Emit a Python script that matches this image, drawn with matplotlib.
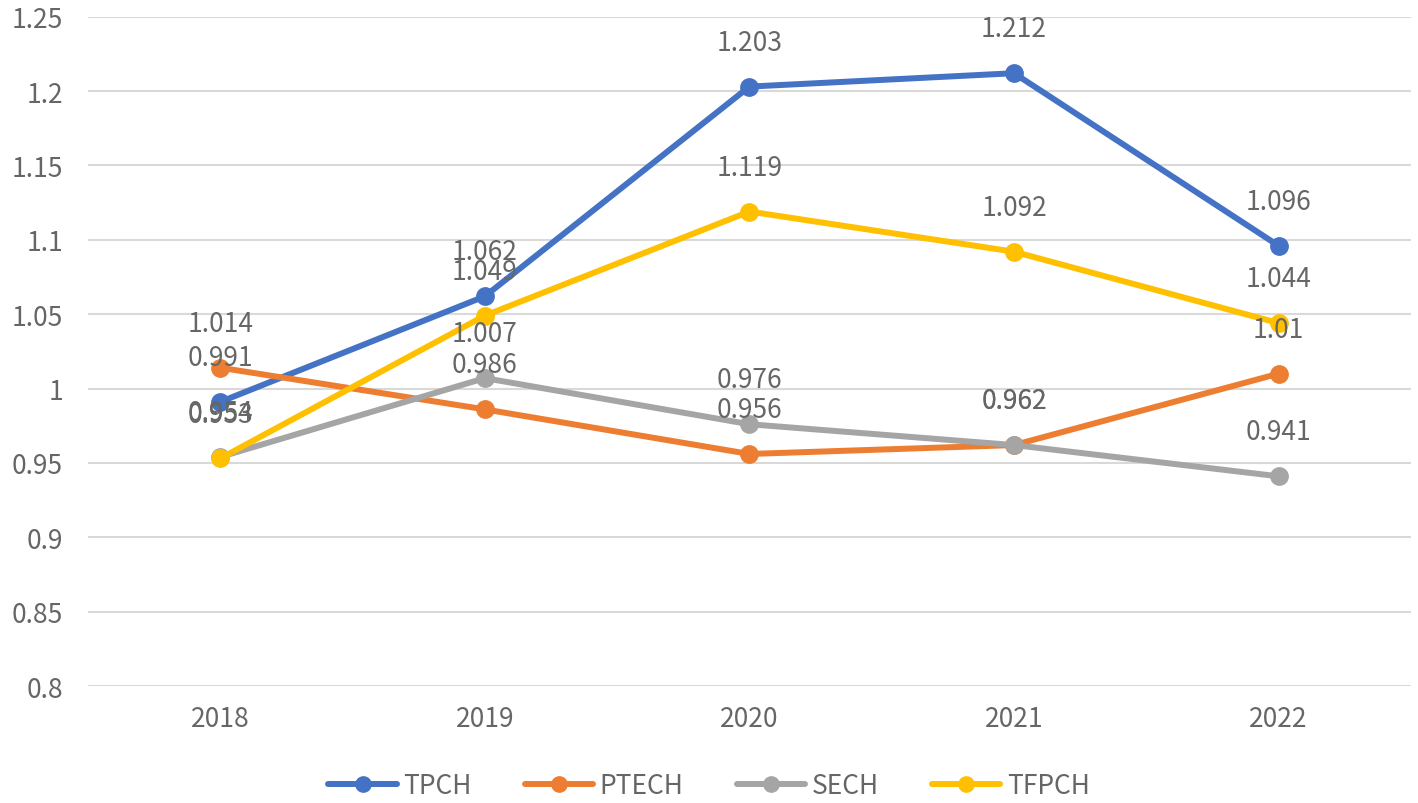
import matplotlib
matplotlib.use("Agg")
import matplotlib.pyplot as plt

years = ["2018", "2019", "2020", "2021", "2022"]
tpch = [0.991, 1.062, 1.203, 1.212, 1.096]
ptech = [1.014, 0.986, 0.956, 0.962, 1.01]
sech = [0.954, 1.007, 0.976, 0.962, 0.941]
tfpch = [0.953, 1.049, 1.119, 1.092, 1.044]

series = [("TPCH", tpch, "#4472C4"),
          ("PTECH", ptech, "#ED7D31"),
          ("SECH", sech, "#A5A5A5"),
          ("TFPCH", tfpch, "#FFC000")]

yticks = [0.8, 0.85, 0.9, 0.95, 1.0, 1.05, 1.1, 1.15, 1.2, 1.25]
ytick_labels = ["0.8", "0.85", "0.9", "0.95", "1", "1.05", "1.1", "1.15", "1.2", "1.25"]

plt.rcParams['font.family'] = ['Noto Sans CJK SC', 'DejaVu Sans']
txt = "#666666"

fig = plt.figure(figsize=(14.18, 8.04), dpi=100)
ax = fig.add_axes([0.062, 0.1455, 0.933, 0.8325])

x = list(range(len(years)))
for name, vals, col in series:
    ax.plot(x, vals, color=col, lw=4.3, marker="o", ms=12.5, label=name,
            solid_capstyle="round", solid_joinstyle="round", zorder=3)
    for xi, v in zip(x, vals):
        ax.annotate(f"{v:g}", (xi, v), xytext=(0, 32), textcoords="offset points",
                    ha="center", va="center", fontsize=19, color=txt, zorder=4)

ax.set_xlim(-0.5, 4.5)
ax.set_ylim(0.8, 1.25)
ax.set_yticks(yticks)
ax.set_yticklabels(ytick_labels)
ax.set_xticks(x)
ax.set_xticklabels(years)
ax.grid(axis="y", color="#D9D9D9", lw=1.5, zorder=0)
ax.set_axisbelow(True)
for s in ax.spines.values():
    s.set_visible(False)
ax.tick_params(axis="both", length=0, labelsize=19, labelcolor=txt)
ax.tick_params(axis="x", pad=14)
ax.tick_params(axis="y", pad=18)

leg = fig.legend(loc="lower center", bbox_to_anchor=(0.5, -0.025), ncol=4,
                 frameon=False, fontsize=19, handlelength=2.6, columnspacing=2.0,
                 handletextpad=0.25, labelcolor=txt)
for h in leg.legend_handles:
    h.set_markersize(11)

fig.savefig("out.png", dpi=100)
